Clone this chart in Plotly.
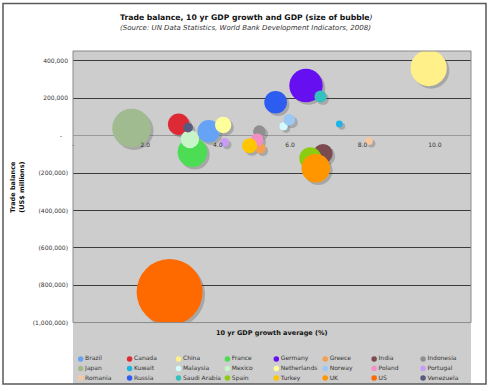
import plotly.graph_objects as go

countries = ["Brazil", "Canada", "China", "France", "Germany", "Greece", "India", "Indonesia",
             "Japan", "Kuwait", "Malaysia", "Mexico", "Netherlands", "Norway", "Poland", "Portugal",
             "Romania", "Russia", "Saudi Arabia", "Spain", "Turkey", "UK", "US", "Venezuela"]
growth = [3.75, 2.92, 9.83, 3.30, 6.44, 5.18, 6.91, 5.15, 1.62, 7.36, 5.82, 3.23,
          4.15, 5.98, 5.09, 4.19, 8.18, 5.60, 6.84, 6.56, 4.88, 6.71, 2.67, 3.18]
trade = [24000, 61000, 362000, -89000, 268000, -68000, -96500, 22000, 40000, 63000, 50000, -18600,
         57000, 84000, -22000, -36000, -29000, 179000, 210000, -121000, -54000, -174000, -837000, 43500]
gdp = [1650, 1500, 4300, 2850, 3650, 350, 1220, 510, 4900, 150, 220, 1090,
       870, 450, 530, 250, 200, 1670, 470, 1600, 730, 2650, 14200, 310]
colors = ["#66a3f5", "#dd2a35", "#fff08a", "#4cdd55", "#6610f2", "#f5a050", "#7b4b4f", "#8f8f8f",
          "#9fbb8f", "#1eb4e6", "#d3fbff", "#c8f5c8", "#ffff9c", "#9cc8f5", "#f38fc4", "#c89bf5",
          "#f8c8a0", "#2c5cf0", "#35c0c0", "#8ccc10", "#ffc600", "#ff9600", "#ff6a00", "#5a5a80"]

x_ticks = [0, 2, 4, 6, 8, 10]
x_ticktext = ["-", "2.0", "4.0", "6.0", "8.0", "10.0"]
y_ticks = [-1000000, -800000, -600000, -400000, -200000, 0, 200000, 400000]
y_ticktext = ["(1,000,000)", "(800,000)", "(600,000)", "(400,000)", "(200,000)", "-   ", "200,000", "400,000"]

FONT = "Verdana, DejaVu Sans, sans-serif"
W, H = 490, 391
ML, MR, MT, MB = 73, 19, 51, 4
PW, PH = W - ML - MR, H - MT - MB
plot_bottom_px = 325
dom0 = (H - MB - plot_bottom_px) / PH

xr = [0, 11]
yr = [-1000000, 453000]
sizeref = 2.0 * max(gdp) / (66 ** 2)

# shadow offsets in data units (px -> data)
sdx = 2.5 * (xr[1] - xr[0]) / PW
sdy = 2.5 * (yr[1] - yr[0]) / (PH * (1 - dom0))

fig = go.Figure()

# shadows on hidden base axes whose ranges are offset (shadow shifted right/down)
fig.add_trace(go.Scatter(
    x=growth, y=trade, mode="markers", xaxis="x", yaxis="y", showlegend=False, hoverinfo="skip",
    marker=dict(size=gdp, sizemode="area", sizeref=sizeref, color="rgba(70,70,70,0.4)", line=dict(width=0)),
))
# bubbles on the visible overlay axes (true ranges)
fig.add_trace(go.Scatter(
    x=growth, y=trade, mode="markers", xaxis="x2", yaxis="y2", showlegend=False,
    text=countries, hoverinfo="text",
    marker=dict(size=gdp, sizemode="area", sizeref=sizeref, color=colors, opacity=1, line=dict(width=0)),
))

# custom legend: 8 columns x 3 rows
ncol = 8
lx = [i % ncol for i in range(len(countries))]
ly = [i // ncol for i in range(len(countries))]
fig.add_trace(go.Scatter(
    x=lx, y=ly, mode="markers+text", xaxis="x3", yaxis="y3", showlegend=False, hoverinfo="skip",
    text=countries, textposition="middle right",
    textfont=dict(family=FONT, size=6, color="#333333"),
    marker=dict(size=5.5, color=colors, line=dict(width=0)),
))

ypos = dom0 + (0 - yr[0]) / (yr[1] - yr[0]) * (1 - dom0)

fig.update_layout(
    width=W, height=H, margin=dict(l=ML, r=MR, t=MT, b=MB),
    paper_bgcolor="white", plot_bgcolor="#cdcdcd",
    font=dict(family=FONT, size=6, color="#333333"),
    showlegend=False,
    xaxis=dict(range=[xr[0] - sdx, xr[1] - sdx], domain=[0, 1], anchor="y", visible=False),
    yaxis=dict(range=[yr[0] + sdy, yr[1] + sdy], domain=[dom0, 1], anchor="x", visible=False),
    xaxis2=dict(range=xr, overlaying="x", side="bottom", anchor="free", position=ypos,
                tickvals=x_ticks, ticktext=x_ticktext,
                showgrid=False, zeroline=False, showline=False, ticks="", ticklabelstandoff=4,
                tickfont=dict(size=6, color="#333333")),
    yaxis2=dict(range=yr, overlaying="y", side="left", anchor="x2", tickvals=y_ticks, ticktext=y_ticktext,
                showgrid=True, gridcolor="#3c3c3c", gridwidth=1,
                zeroline=True, zerolinecolor="#9a9a9a", zerolinewidth=1,
                showline=False, ticks="", ticklabelstandoff=4,
                tickfont=dict(size=6, color="#333333")),
    xaxis3=dict(range=[-0.157, 7.98], domain=[0, 1], anchor="y3", visible=False),
    yaxis3=dict(range=[2.62, -3.8], domain=[0, dom0], anchor="x3", visible=False),
)

shapes = [
    dict(type="rect", xref="paper", yref="paper", x0=0, x1=1, y0=dom0, y1=1,
         line=dict(color="#8a8a8a", width=1), fillcolor="rgba(0,0,0,0)", layer="above"),
    dict(type="rect", xref="paper", yref="paper",
         x0=(3 - ML) / PW, x1=(486 - ML) / PW, y0=(H - MB - 387) / PH, y1=(H - MB - 3) / PH,
         line=dict(color="#5a5a5a", width=1.5), fillcolor="rgba(0,0,0,0)"),
]
fig.update_layout(shapes=shapes)

def py(px):
    return (H - MB - px) / PH

def pxx(px):
    return (px - ML) / PW

annotations = [
    dict(text="<b>Trade balance, 10 yr GDP growth and GDP (size of bubble</b><i>)</i>",
         x=pxx(246), y=py(17), xref="paper", yref="paper", showarrow=False,
         xanchor="center", yanchor="middle", font=dict(family=FONT, size=7.7, color="#111111")),
    dict(text="<i>(Source: UN Data Statistics, World Bank Development Indicators, 2008)</i>",
         x=pxx(245), y=py(27.5), xref="paper", yref="paper", showarrow=False,
         xanchor="center", yanchor="middle", font=dict(family=FONT, size=7, color="#333333")),
    dict(text="<b>10 yr GDP growth average (%)</b>",
         x=pxx(272), y=py(336), xref="paper", yref="paper", showarrow=False,
         xanchor="center", yanchor="middle", font=dict(family=FONT, size=6.5, color="#111111")),
    dict(text="<b>Trade balance<br>(US$ millions)</b>", textangle=-90,
         x=pxx(17), y=(dom0 + 1) / 2, xref="paper", yref="paper", showarrow=False,
         xanchor="center", yanchor="middle", font=dict(family=FONT, size=6.5, color="#111111")),
]
fig.update_layout(annotations=annotations)

fig.write_html("out.html", config={"displayModeBar": False},
               post_script="document.body.style.margin='0';document.body.style.overflow='hidden';")
